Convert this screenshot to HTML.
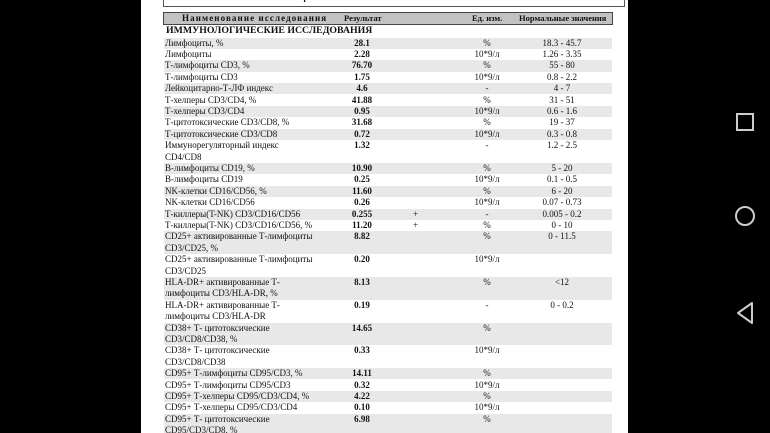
<!DOCTYPE html>
<html><head><meta charset="utf-8"><style>
html,body{margin:0;width:770px;height:433px;overflow:hidden}
body{background:#000;position:relative;font-family:"Liberation Serif",serif;font-size:9px;color:#111}
#pg{position:absolute;left:141px;top:0;width:487px;height:433px;background:#fff}
.box{position:absolute;left:163px;top:-2px;width:460px;height:8px;border:1px solid #555;border-top:none;background:#fff}
.hd{position:absolute;left:163px;top:12px;width:448px;height:11px;background:#c2c2c2;border:1px solid #444;font-weight:bold;font-size:8.5px}
.hd span,.r span{position:absolute;white-space:nowrap;line-height:11.4px}
.r{position:absolute;left:164px;width:448px}
.g{background:#e8e8e8}
.n{left:1px}
.v{left:168px;width:60px;text-align:center;font-weight:bold}
.p{left:249px}
.u{left:293px;width:60px;text-align:center}
.m{left:368px;width:60px;text-align:center}
.sec{position:absolute;left:166px;top:25px;font-weight:bold;font-size:9.8px;line-height:12px}
.nav{position:absolute}
</style></head><body>
<div id="pg"></div>
<div class="box"><span style="position:absolute;left:128px;top:-5px;font-size:8px;font-weight:bold">Мари2.?.22</span></div>
<div class="hd"><span style="left:18px;top:0;font-size:9px;letter-spacing:1.1px">Наименование исследования</span><span style="left:180px">Результат</span><span style="left:308px">Ед. изм.</span><span style="left:355px">Нормальные значения</span></div>
<div class="sec">ИММУНОЛОГИЧЕСКИЕ ИССЛЕДОВАНИЯ</div>
<div id="t"></div>
<svg class="nav" style="left:730px;top:108px" width="30" height="250">
<rect x="7" y="6" width="16" height="16" fill="none" stroke="#ccc" stroke-width="2"/>
<circle cx="15" cy="108" r="9" fill="none" stroke="#ccc" stroke-width="2"/>
<path d="M22 195 L8 205 L22 215 Z" fill="none" stroke="#ccc" stroke-width="2" stroke-linejoin="round"/>
</svg>
<script>
var R=[
["Лимфоциты, %","28.1","","%","18.3 - 45.7"],
["Лимфоциты","2.28","","10*9/л","1.26 - 3.35"],
["Т-лимфоциты CD3, %","76.70","","%","55 - 80"],
["Т-лимфоциты CD3","1.75","","10*9/л","0.8 - 2.2"],
["Лейкоцитарно-Т-ЛФ индекс","4.6","","-","4 - 7"],
["Т-хелперы CD3/CD4, %","41.88","","%","31 - 51"],
["Т-хелперы CD3/CD4","0.95","","10*9/л","0.6 - 1.6"],
["Т-цитотоксические CD3/CD8, %","31.68","","%","19 - 37"],
["Т-цитотоксические CD3/CD8","0.72","","10*9/л","0.3 - 0.8"],
["Иммунорегуляторный индекс<br>CD4/CD8","1.32","","-","1.2 - 2.5"],
["В-лимфоциты CD19, %","10.90","","%","5 - 20"],
["В-лимфоциты CD19","0.25","","10*9/л","0.1 - 0.5"],
["NK-клетки CD16/CD56, %","11.60","","%","6 - 20"],
["NK-клетки CD16/CD56","0.26","","10*9/л","0.07 - 0.73"],
["Т-киллеры(T-NK) CD3/CD16/CD56","0.255","+","-","0.005 - 0.2"],
["Т-киллеры(T-NK) CD3/CD16/CD56, %","11.20","+","%","0 - 10"],
["CD25+ активированные Т-лимфоциты<br>CD3/CD25, %","8.82","","%","0 - 11.5"],
["CD25+ активированные Т-лимфоциты<br>CD3/CD25","0.20","","10*9/л",""],
["HLA-DR+ активированные Т-<br>лимфоциты CD3/HLA-DR, %","8.13","","%","&lt;12"],
["HLA-DR+ активированные Т-<br>лимфоциты CD3/HLA-DR","0.19","","-","0 - 0.2"],
["CD38+ Т- цитотоксические<br>CD3/CD8/CD38, %","14.65","","%",""],
["CD38+ Т- цитотоксические<br>CD3/CD8/CD38","0.33","","10*9/л",""],
["CD95+ Т-лимфоциты CD95/CD3, %","14.11","","%",""],
["CD95+ Т-лимфоциты CD95/CD3","0.32","","10*9/л",""],
["CD95+ Т-хелперы CD95/CD3/CD4, %","4.22","","%",""],
["CD95+ Т-хелперы CD95/CD3/CD4","0.10","","10*9/л",""],
["CD95+ Т- цитотоксические<br>CD95/CD3/CD8, %","6.98","","%",""]];
var y=37.5,h="";
R.forEach(function(r,i){var L=r[0].indexOf("<br>")>=0?2:1;var H=L*11.4;
h+='<div class="r'+(i%2==0?' g':'')+'" style="top:'+y+'px;height:'+H+'px"><span class="n">'+r[0]+'</span><span class="v">'+r[1]+'</span><span class="p">'+r[2]+'</span><span class="u">'+r[3]+'</span><span class="m">'+r[4]+'</span></div>';y+=H;});
document.getElementById("t").innerHTML=h;
</script>
</body></html>
